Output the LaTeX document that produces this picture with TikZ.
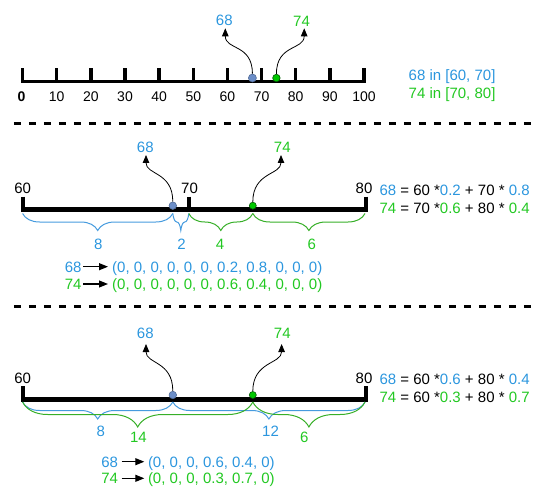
\documentclass[tikz,border=0pt]{standalone}
\usepackage{fontspec}
\setmainfont{Liberation Sans}
\usetikzlibrary{decorations.pathreplacing,arrows.meta}
\definecolor{tblue}{RGB}{43,150,222}
\definecolor{tgreen}{RGB}{34,200,34}
\definecolor{bblue}{RGB}{70,155,222}
\definecolor{bgreen}{RGB}{55,175,40}
\definecolor{dotblue}{RGB}{108,142,200}
\definecolor{dotgreen}{RGB}{0,200,0}
\begin{document}
\begin{tikzpicture}[x=1pt,y=-1pt,
  lab/.style={font=\fontsize{15}{18}\selectfont, inner sep=0pt, text height=10.7pt, text depth=0pt},
  ticklab/.style={font=\fontsize{14}{17}\selectfont, inner sep=0pt, text height=10pt, text depth=0pt},
  axisthin/.style={line width=3pt},
  tickthin/.style={line width=3.5pt},
  axisthick/.style={line width=5pt},
  tickthick/.style={line width=4pt},
  dashsep/.style={line width=3pt, dash pattern=on 7pt off 8pt},
  bdot/.style={circle, fill=dotblue, draw=dotblue!75!black, line width=0.6pt, minimum size=8pt, inner sep=0pt},
  gdot/.style={circle, fill=dotgreen, draw=dotgreen!45!black, line width=0.6pt, minimum size=7.5pt, inner sep=0pt},
  curvearrow/.style={-{Triangle[length=8pt,width=6.5pt]}, line width=0.8pt},
  vecarrow/.style={-{Triangle[length=9pt,width=7pt]}, line width=1.1pt},
  bracedown/.style={decorate, decoration={brace, mirror, amplitude=#1}, line width=1pt},
]
\useasboundingbox (0,0) rectangle (545,494);

% ---------------- Panel 1 ----------------
\draw[axisthin] (21.5,81.2) -- (365.5,81.2);
\foreach \v in {0,10,...,100}{
  \draw[tickthin] ({22.6+3.414*\v},68.3) -- ({22.6+3.414*\v},82.7);
}
\node[ticklab, font=\fontsize{14}{17}\selectfont\bfseries] (tl0) at (21.5,96.7) {0};
\foreach \v in {10,20,...,100}{
  \node[ticklab] (tl\v) at ({22.6+3.414*\v},96.7) {\v};
}
\node[bdot] (pa) at (252.4,78) {};
\node[gdot] (pb) at (276.4,78) {};
\node[lab, text=tblue] (pal) at (224.3,20.5) {68};
\node[lab, text=tgreen] (pbl) at (301.5,21.5) {74};
\coordinate (pat) at (225.3,28.3);
\coordinate (pbt) at (304.2,28.3);
\draw[curvearrow] (pa.north) .. controls +(0,-30) and +(0,22) .. (pat);
\draw[curvearrow] (pb.north) .. controls +(0,-30) and +(0,22) .. (pbt);
\node[lab, text=tblue, anchor=west] (r1a) at (408.5,75) {68 in [60, 70]};
\node[lab, text=tgreen, anchor=west] (r1b) at (408.5,93.3) {74 in [70, 80]};

% ---------------- separators ----------------
\draw[dashsep] (13.9,123.3) -- (532,123.3);
\draw[dashsep] (13.9,306.7) -- (532,306.7);

% ---------------- Panel 2 ----------------
\draw[axisthick] (21.3,209.3) -- (368,209.3);
\draw[tickthick] (23.3,196.7) -- (23.3,211.8);
\draw[tickthick] (188.8,196.7) -- (188.8,211.8);
\draw[tickthick] (366,196.7) -- (366,211.8);
\node[lab] (q60) at (22.6,188.3) {60};
\node[lab] (q70) at (189.5,188.3) {70};
\node[lab] (q80) at (364,188.3) {80};
\node[bdot, minimum size=7.5pt] (qa) at (172.8,205.7) {};
\node[gdot, minimum size=7pt] (qb) at (252.8,205.7) {};
\node[lab, text=tblue] (qal) at (145.3,146.7) {68};
\node[lab, text=tgreen] (qbl) at (282.3,146.7) {74};
\coordinate (qat) at (146,155);
\coordinate (qbt) at (281,155);
\draw[curvearrow] (qa.north) .. controls +(0,-30) and +(0,20) .. (qat);
\draw[curvearrow] (qb.north) .. controls +(0,-30) and +(0,20) .. (qbt);
% braces
\draw[bracedown=17pt, bblue] (22.6,213.5) -- (172.8,213.5);
\draw[bracedown=17pt, bblue] (172.8,213.5) -- (188.8,213.5);
\draw[bracedown=17pt, bgreen] (188.8,213.5) -- (252.8,213.5);
\draw[bracedown=17pt, bgreen] (252.8,213.5) -- (365,213.5);
\node[lab, text=tblue] (q8) at (98.4,244) {8};
\node[lab, text=tblue] (q2) at (181.5,244) {2};
\node[lab, text=tgreen] (q4) at (220,244) {4};
\node[lab, text=tgreen] (q6) at (311.9,244) {6};
\node[lab, anchor=west] (r2a) at (379.3,190) {\textcolor{tblue}{68} = 60 *\textcolor{tblue}{0.2} + 70 * \textcolor{tblue}{0.8}};
\node[lab, anchor=west] (r2b) at (379.3,207.7) {\textcolor{tgreen}{74} = 70 *\textcolor{tgreen}{0.6} + 80 * \textcolor{tgreen}{0.4}};
% vectors
\node[lab, text=tblue, anchor=east] (v2a) at (81.7,266.7) {68};
\node[lab, text=tblue, anchor=west] (w2a) at (112,266.7) {(0, 0, 0, 0, 0, 0, 0.2, 0.8, 0, 0, 0)};
\node[lab, text=tgreen, anchor=east] (v2b) at (81.7,284) {74};
\node[lab, text=tgreen, anchor=west] (w2b) at (112,284) {(0, 0, 0, 0, 0, 0, 0.6, 0.4, 0, 0, 0)};
\draw[vecarrow, shorten <=1.7pt, shorten >=4pt] (v2a.east) -- (w2a.west);
\draw[vecarrow, shorten <=1.7pt, shorten >=4pt] (v2b.east) -- (w2b.west);

% ---------------- Panel 3 ----------------
\draw[axisthick] (21.3,399) -- (368,399);
\draw[tickthick] (23.3,386) -- (23.3,401.5);
\draw[tickthick] (366,386) -- (366,401.5);
\node[lab] (s60) at (22.6,378.3) {60};
\node[lab] (s80) at (364,378.3) {80};
\node[bdot, minimum size=7.5pt] (sa) at (172.8,395) {};
\node[gdot, minimum size=7pt] (sb) at (252.8,395) {};
\node[lab, text=tblue] (sal) at (145.3,333.3) {68};
\node[lab, text=tgreen] (sbl) at (282.3,333.3) {74};
\coordinate (sat) at (146,344);
\coordinate (sbt) at (281.6,344);
\draw[curvearrow] (sa.north) .. controls +(0,-30) and +(0,20) .. (sat);
\draw[curvearrow] (sb.north) .. controls +(0,-30) and +(0,20) .. (sbt);
% braces
\draw[bracedown=17pt, bblue] (22.6,402) -- (172.8,402);
\draw[bracedown=17pt, bblue] (172.8,402) -- (365,402);
\draw[bracedown=25pt, bgreen] (22.6,402) -- (252.8,402);
\draw[bracedown=25pt, bgreen] (252.8,402) -- (365,402);
\node[lab, text=tblue] (s8) at (100.8,431) {8};
\node[lab, text=tblue] (s12) at (270.5,431) {12};
\node[lab, text=tgreen] (s14) at (138.4,436.7) {14};
\node[lab, text=tgreen] (s6) at (304.2,436.7) {6};
\node[lab, anchor=west] (r3a) at (379.3,379.3) {\textcolor{tblue}{68} = 60 *\textcolor{tblue}{0.6} + 80 * \textcolor{tblue}{0.4}};
\node[lab, anchor=west] (r3b) at (379.3,396.7) {\textcolor{tgreen}{74} = 60 *\textcolor{tgreen}{0.3} + 80 * \textcolor{tgreen}{0.7}};
% vectors
\node[lab, text=tblue, anchor=east] (v3a) at (118.2,461.7) {68};
\node[lab, text=tblue, anchor=west] (w3a) at (147.8,461.7) {(0, 0, 0, 0.6, 0.4, 0)};
\node[lab, text=tgreen, anchor=east] (v3b) at (118.2,478.3) {74};
\node[lab, text=tgreen, anchor=west] (w3b) at (147.8,478.3) {(0, 0, 0, 0.3, 0.7, 0)};
\draw[vecarrow, shorten <=3.5pt, shorten >=3.5pt] (v3a.east) -- (w3a.west);
\draw[vecarrow, shorten <=3.5pt, shorten >=3.5pt] (v3b.east) -- (w3b.west);
\end{tikzpicture}
\end{document}
